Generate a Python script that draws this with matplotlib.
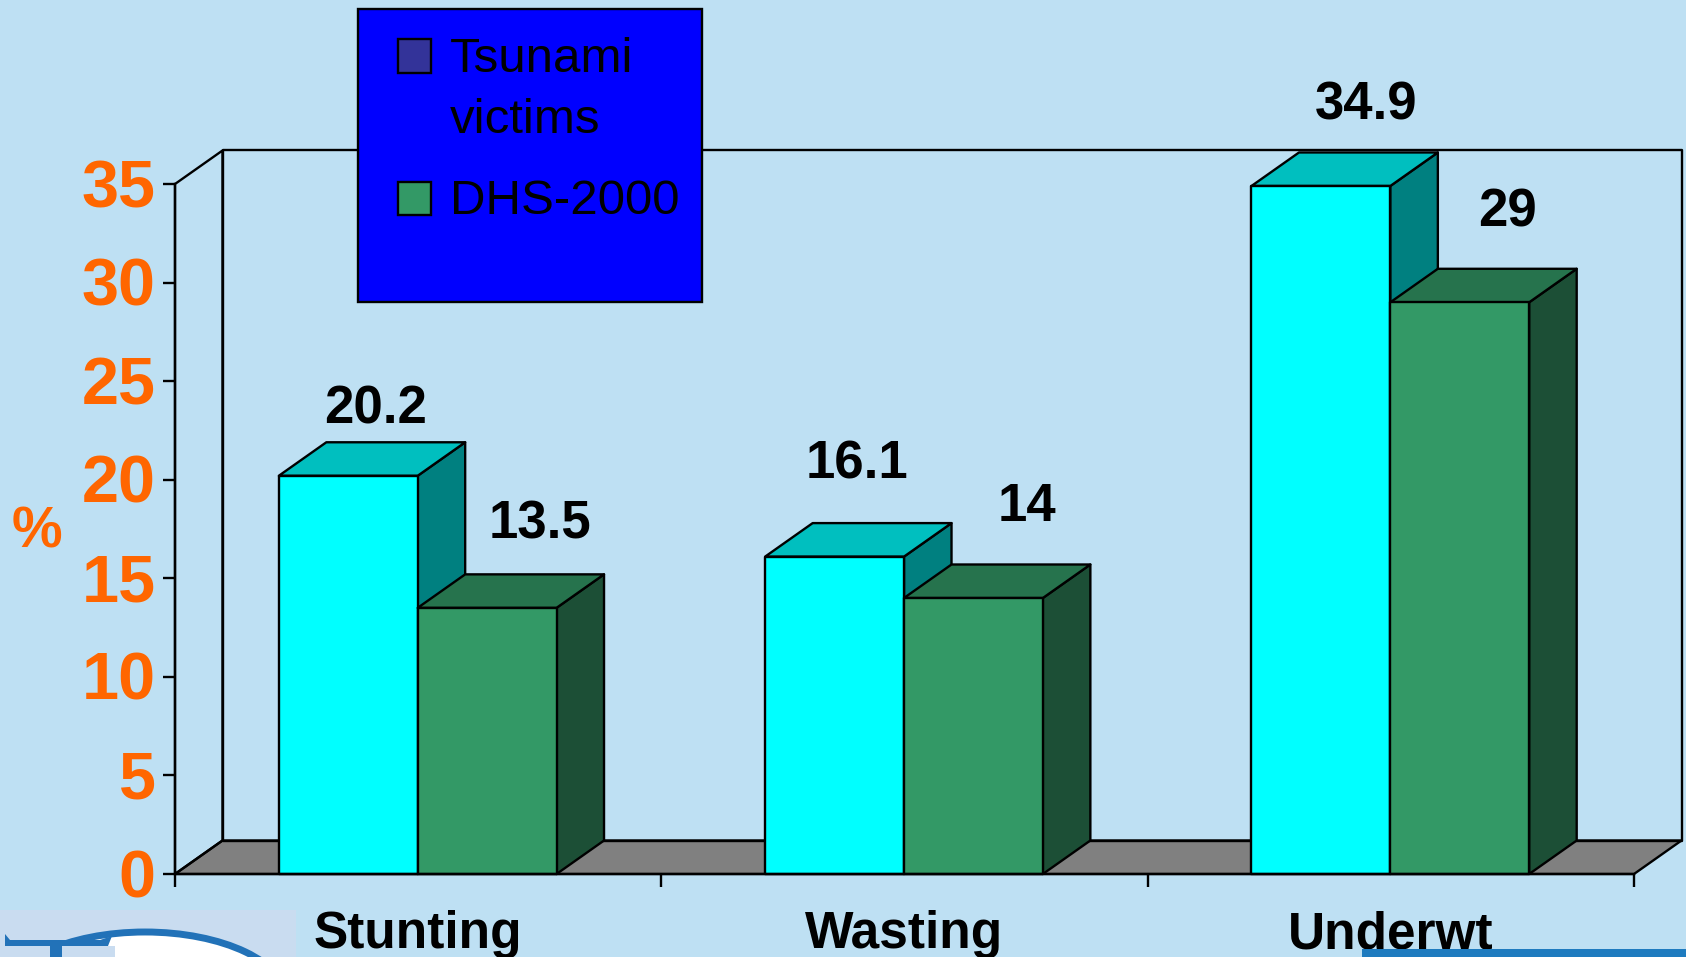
import matplotlib
matplotlib.use("Agg")
import matplotlib.pyplot as plt
from matplotlib.patches import Polygon, Rectangle, Ellipse
from matplotlib.legend_handler import HandlerPatch
from matplotlib.transforms import Affine2D, ScaledTranslation

categories = ["Stunting", "Wasting", "Underwt"]
tsunami_victims = [20.2, 16.1, 34.9]
dhs_2000 = [13.5, 14, 29]
series_names = ["Tsunami\nvictims", "DHS-2000"]
y_ticks = [0, 5, 10, 15, 20, 25, 30, 35]

W, H = 1686, 957
BG = "#BEE0F3"
ORANGE = "#FF6600"
plt.rcParams["font.family"] = ["Liberation Sans", "DejaVu Sans"]

fig = plt.figure(figsize=(W / 100, H / 100), dpi=100, facecolor=BG)
L, R, B, T = 175.0, 1634.0, 874.0, 184.0
ax = fig.add_axes([L / W, 1 - B / H, (R - L) / W, (B - T) / H], facecolor="none")
ax.set_xlim(0, 3)
ax.set_ylim(0, 35)

# depth of the 3-D box, in data units
DX = 47.5 / ((R - L) / 3)
DY = 33.5 / ((B - T) / 35)
LW = 1.7
BW = 0.2855
SHIFT = -0.001


def poly(pts, fc, z=2, lw=LW):
    ax.add_patch(Polygon(pts, closed=True, facecolor=fc, edgecolor="black", lw=lw,
                         zorder=z, clip_on=False, joinstyle="round"))


# floor and walls
poly([(0, 0), (DX, DY), (3 + DX, DY), (3, 0)], "#808080", z=1)
poly([(0, 0), (DX, DY), (DX, 35 + DY), (0, 35)], "none", z=1)
poly([(DX, DY), (DX, 35 + DY), (3 + DX, 35 + DY), (3 + DX, DY)], "none", z=1)


def bar3d(x0, v, front, top, side, z):
    x1 = x0 + BW
    poly([(x1, 0), (x1 + DX, DY), (x1 + DX, v + DY), (x1, v)], side, z=z)
    poly([(x0, v), (x0 + DX, v + DY), (x1 + DX, v + DY), (x1, v)], top, z=z)
    poly([(x0, 0), (x0, v), (x1, v), (x1, 0)], front, z=z)


# value-label offsets from the top centre of each bar, in pixels
offsets_a = [(27, 66), (22, 92), (45, 80)]
offsets_b = [(53, 83), (53, 91), (48, 90)]
for i, (a, b) in enumerate(zip(tsunami_victims, dhs_2000)):
    c = i + 0.5 + SHIFT
    bar3d(c - BW, a, "#00FFFF", "#00BFBF", "#008080", 3)
    bar3d(c, b, "#339966", "#26734D", "#1C4F36", 4)
    for x, v, off in ((c - BW / 2, a, offsets_a[i]), (c + BW / 2, b, offsets_b[i])):
        ax.annotate(f"{v:g}", xy=(x, v), xytext=off, textcoords="offset pixels",
                    ha="center", va="center", fontsize=38, fontweight="bold",
                    color="black", zorder=6, annotation_clip=False)

# axes
for s in ("top", "right"):
    ax.spines[s].set_visible(False)
for s in ("left", "bottom"):
    ax.spines[s].set_linewidth(LW)
    ax.spines[s].set_zorder(5)
ax.set_yticks(y_ticks)
ax.set_yticklabels([str(t) for t in y_ticks], fontsize=48, fontweight="bold", color=ORANGE)
ax.tick_params(axis="y", length=9, width=LW, pad=5)
for lab in ax.get_yticklabels():
    lab.set_transform(lab.get_transform() + ScaledTranslation(0, 1 / 100, fig.dpi_scale_trans))
ax.set_xticks([0, 1, 2, 3])
ax.set_xticklabels([])
ax.set_xticks([0.5, 1.5, 2.5], minor=True)
ax.set_xticklabels(categories, minor=True, fontsize=37, fontweight="bold", color="black")
ax.tick_params(axis="x", which="major", length=9, width=LW)
ax.tick_params(axis="x", which="minor", length=0, pad=26)
ax.set_ylabel("%", rotation=0, fontsize=41, fontweight="bold", color=ORANGE, ha="center", va="center")
ax.yaxis.set_label_coords((37 - L) / (R - L), (B - 532) / (B - T))

# pixel coordinates, top-left origin, for the elements outside the plot
px = Affine2D().scale(1, -1).translate(0, H)

# legend panel
fig.add_artist(Rectangle((358, 9), 344, 293, transform=px, facecolor="#0000FF",
                         edgecolor="black", lw=1.7, zorder=10))


class UpperPatch(HandlerPatch):
    def __init__(self, shift):
        super().__init__()
        self.shift = shift

    def create_artists(self, legend, orig, xd, yd, w, h, fs, trans):
        r = Rectangle((0, self.shift), 24, 24, facecolor=orig.get_facecolor(),
                      edgecolor="black", lw=1.7, transform=trans)
        return [r]


h1 = Rectangle((0, 0), 1, 1, facecolor="#333399")
h2 = Rectangle((0, 0), 1, 1, facecolor="#339966")
leg = fig.legend([h1, h2], series_names, loc="upper left",
                 bbox_to_anchor=(398 / W, 1 - 36.5 / H), bbox_transform=fig.transFigure,
                 frameon=False, borderpad=0, borderaxespad=0, handlelength=0.68,
                 handletextpad=0.38, labelspacing=0.72,
                 prop={"family": ["Liberation Sans"], "size": 35.5},
                 handler_map={h1: UpperPatch(25), h2: UpperPatch(-1)})
for t in leg.get_texts():
    t.set_linespacing(1.48)
leg.set_zorder(11)

# bottom-left logo and bottom-right band
fig.add_artist(Rectangle((0, 910), 296, 47, transform=px, facecolor="#C9DCF0", edgecolor="none", zorder=1))
fig.add_artist(Ellipse((145, 1000), 284, 136, transform=px, facecolor="white", edgecolor="#2272B8", lw=5, zorder=2))
fig.add_artist(Rectangle((5, 946), 110, 11, transform=px, facecolor="#C9DCF0", edgecolor="none", zorder=3))
fig.add_artist(Polygon([(5, 934), (10, 940), (100, 940), (112, 936), (108, 946), (5, 946)], closed=True,
                       transform=px, facecolor="#2272B8", edgecolor="none", zorder=4))
fig.add_artist(Rectangle((50, 945), 12, 12, transform=px, facecolor="#2272B8", edgecolor="none", zorder=4))
fig.add_artist(Rectangle((1362, 949), 324, 8, transform=px, facecolor="#1E7BBF", edgecolor="none", zorder=1))

fig.savefig("out.png", dpi=100, facecolor=BG)
